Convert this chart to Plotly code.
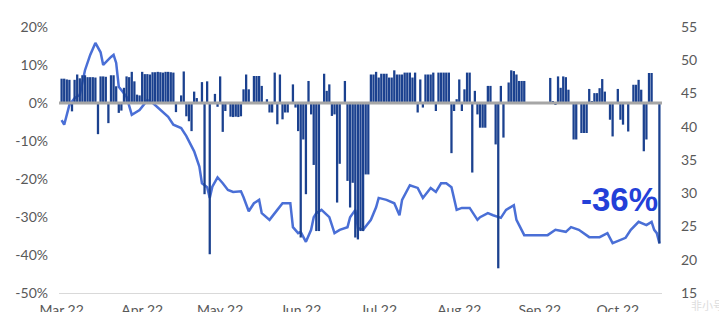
import plotly.graph_objects as go
import pandas as pd

# Daily bar values (% , left axis), starting 2022-03-01
bar_vals = [
    6.4, 6.4, 6.2, 6.1, -2.2, 6.1, 7.5, 6.5, 7.3, 7.3,
    6.8, 6.8, 6.8, 6.7, -8.2, 7.0, 7.0, 6.9, -5.3, 7.3,
    7.3, 4.4, -2.6, -2.0, 4.0, 7.0, 6.8, 8.2, 5.7, 2.2,
    2.0, 8.2, 7.6, 7.6, 7.5, 8.1, 8.1, 8.2, 8.1, 8.0,
    8.2, 8.2, 8.1, 8.0, -2.4, 0, 2.0, 8.3, -3.5, -4.8,
    -7.4, 3.0, 1.3, 0, 5.5, -24.0, 5.7, -39.8, 0, 2.4,
    -1.0, 7.0, -7.6, -2.1, 0, -3.6, -3.7, -3.6, -3.7, -3.5,
    3.6, 7.5, 3.6, 0, 7.1, 7.1, 7.1, 4.5, 0, 1.0,
    -2.5, -2.5, 8.0, -5.6, 7.5, -4.3, -2.5, -2.5, 0, 4.9,
    -1.2, -7.4, -35.4, -9.6, -24.0, 5.8, -3.0, -16.3, -33.7, -33.7,
    0, 7.7, 3.2, 4.9, -3.4, -3.0, -26.2, -16.0, 0, 5.8,
    -20.5, -27.5, -21.0, -35.4, -35.9, -33.7, -33.7, -18.8, -18.8, 7.5,
    7.5, 8.2, 6.7, 7.7, 7.7, 7.7, 6.7, 6.7, 8.6, 7.5,
    7.5, 7.5, 8.0, 8.0, 8.0, 6.7, 8.0, -2.5, 6.2, -1.2,
    7.5, 7.5, 7.5, 8.0, -2.1, 8.0, 8.0, 8.0, 8.0, 8.0,
    -13.2, -2.1, 1.0, 6.2, -2.1, 3.6, 8.0, 8.0, -18.3, 3.2,
    -3.0, -6.5, -6.5, -6.5, 4.5, 4.5, 0, -10.9, -43.5, 4.5,
    -9.1, 0, 5.4, 8.6, 8.4, 7.5, 5.8, 5.8, 5.8, 0,
    0, 0, 0, 0, 0, 0, 0, 0, 6.6, 0.3,
    -0.5, 7.0, 4.0, 7.0, 6.8, 3.5, 0, -9.6, -9.6, 0,
    -7.9, -7.9, -7.9, 3.7, 0.5, 2.6, 2.6, 3.9, 6.3, 3.0,
    0, -4.4, -8.8, 0, 3.7, -4.4, -5.7, 0, -7.5, 0,
    4.8, 4.8, 6.1, 3.5, -12.7, -9.6, 7.9, 7.9, 0.2, 0,
    -37.0,
]
bar_dates = pd.date_range("2022-03-01", periods=len(bar_vals), freq="D")

# Line (right axis)
line_dates = [
    "2022-03-01", "2022-03-02", "2022-03-04", "2022-03-06", "2022-03-08", "2022-03-10",
    "2022-03-12", "2022-03-14", "2022-03-16", "2022-03-17", "2022-03-20", "2022-03-21",
    "2022-03-22", "2022-03-23", "2022-03-26", "2022-03-28", "2022-03-31", "2022-04-03",
    "2022-04-05", "2022-04-08", "2022-04-11", "2022-04-13", "2022-04-16", "2022-04-18",
    "2022-04-21", "2022-04-23", "2022-04-24", "2022-04-26", "2022-04-27", "2022-04-28",
    "2022-04-30", "2022-05-02", "2022-05-04", "2022-05-06", "2022-05-09", "2022-05-10",
    "2022-05-12", "2022-05-14", "2022-05-16", "2022-05-17", "2022-05-20", "2022-05-23",
    "2022-05-25", "2022-05-28", "2022-05-29", "2022-05-31", "2022-06-01", "2022-06-03",
    "2022-06-05", "2022-06-06", "2022-06-07", "2022-06-09", "2022-06-12", "2022-06-14",
    "2022-06-16", "2022-06-19", "2022-06-20", "2022-06-22", "2022-06-23", "2022-06-25",
    "2022-06-28", "2022-06-30", "2022-07-01", "2022-07-04", "2022-07-07", "2022-07-09",
    "2022-07-10", "2022-07-13", "2022-07-16", "2022-07-18", "2022-07-21", "2022-07-23",
    "2022-07-25", "2022-07-27", "2022-07-29", "2022-07-31", "2022-08-02", "2022-08-05",
    "2022-08-08", "2022-08-09", "2022-08-12", "2022-08-14", "2022-08-17", "2022-08-19",
    "2022-08-22", "2022-08-23", "2022-08-26", "2022-09-04", "2022-09-05", "2022-09-07",
    "2022-09-11", "2022-09-13", "2022-09-16", "2022-09-20", "2022-09-24", "2022-09-27",
    "2022-09-29", "2022-10-02", "2022-10-04", "2022-10-06", "2022-10-09", "2022-10-12",
    "2022-10-14", "2022-10-15", "2022-10-16", "2022-10-17",
]
line_vals = [
    41.0, 40.3, 43.3, 44.3, 44.8, 48.5,
    50.8, 52.6, 51.2, 49.3, 50.5, 50.8,
    49.6, 46.0, 44.5, 41.8, 42.5, 44.0,
    43.6, 42.5, 41.5, 40.3, 39.8, 38.6,
    36.3, 34.0, 31.5, 30.9, 29.3, 31.0,
    32.4, 31.5, 30.5, 30.2, 30.3, 29.4,
    27.3, 28.5, 29.0, 27.0, 26.0, 27.5,
    28.5, 28.5, 24.9, 24.0, 24.2, 22.7,
    24.5, 26.4, 27.0, 27.5, 26.4, 24.0,
    24.5, 24.9, 26.4, 27.5, 24.8, 24.5,
    26.0, 27.9, 29.3, 29.0, 28.5, 26.7,
    29.0, 31.2, 30.8, 29.3, 30.8, 30.2,
    31.5, 31.5, 30.9, 27.5, 27.8, 27.8,
    26.0, 26.4, 27.0, 26.7, 26.3, 27.5,
    28.2, 26.0, 23.7, 23.7, 24.0, 24.5,
    24.2, 24.9, 24.5, 23.4, 23.4, 24.0,
    22.5, 23.0, 23.3, 24.5, 25.7, 25.2,
    25.7, 24.5, 24.0, 22.5,
]

month_ticks = ["2022-03-01", "2022-04-01", "2022-05-01", "2022-06-01",
               "2022-07-01", "2022-08-01", "2022-09-01", "2022-10-01"]
month_labels = ["Mar 22", "Apr 22", "May 22", "Jun 22", "Jul 22", "Aug 22", "Sep 22", "Oct 22"]
left_ticks = [20, 10, 0, -10, -20, -30, -40, -50]
left_labels = ["20%", "10%", "0%", "-10%", "-20%", "-30%", "-40%", "-50%"]
right_ticks = [15, 20, 25, 30, 35, 40, 45, 50, 55]
annotation_text = "-36%"
watermark_text = "非小号"

tick_font = dict(family="Lato, Open Sans, sans-serif", size=14, color="#595959")

fig = go.Figure()
fig.add_trace(go.Scatter(
    x=line_dates, y=line_vals, yaxis="y", mode="lines",
    line=dict(color="#4A6FD6", width=2.5), showlegend=False,
))
fig.add_trace(go.Bar(
    x=bar_dates, y=bar_vals, yaxis="y2",
    marker=dict(color="#1B418F", line=dict(width=0)), showlegend=False,
))

fig.update_layout(
    width=719, height=312, autosize=False,
    margin=dict(l=59, r=57, t=27, b=19, pad=0),
    paper_bgcolor="white", plot_bgcolor="white",
    bargap=0.12, showlegend=False,
    xaxis=dict(
        type="date", range=["2022-02-28", "2022-10-18"],
        tickvals=month_ticks, ticktext=month_labels,
        showgrid=False, zeroline=False, showline=True,
        linecolor="#D9D9D9", linewidth=1, ticks="",
        tickfont=tick_font, ticklabelstandoff=4, automargin=False,
    ),
    yaxis=dict(
        side="right", range=[15, 55], tickvals=right_ticks,
        showgrid=False, zeroline=False, showline=False, ticks="",
        tickfont=tick_font, ticklabelstandoff=18, automargin=False,
    ),
    yaxis2=dict(
        overlaying="y", side="left", range=[-50, 20],
        tickvals=left_ticks, ticktext=left_labels,
        showgrid=False, zeroline=False, showline=False, ticks="",
        tickfont=tick_font, ticklabelstandoff=10, automargin=False,
    ),
    shapes=[dict(
        type="line", xref="paper", x0=0, x1=1, yref="y2", y0=0, y1=0,
        line=dict(color="#A6A6A6", width=3), layer="above",
    )],
    annotations=[
        dict(text="<b>" + annotation_text + "</b>", xref="paper", yref="paper",
             x=0.93, y=0.35, xanchor="center", yanchor="middle", showarrow=False,
             font=dict(family="Liberation Sans, Arial, sans-serif", size=33, color="#2340D8")),
        dict(text=watermark_text, xref="paper", yref="paper",
             x=1.075, y=-0.045, xanchor="center", yanchor="middle", showarrow=False,
             font=dict(family="Noto Sans CJK SC", size=11, color="#DDDDDD")),
    ],
)

fig.write_html("out.html")
